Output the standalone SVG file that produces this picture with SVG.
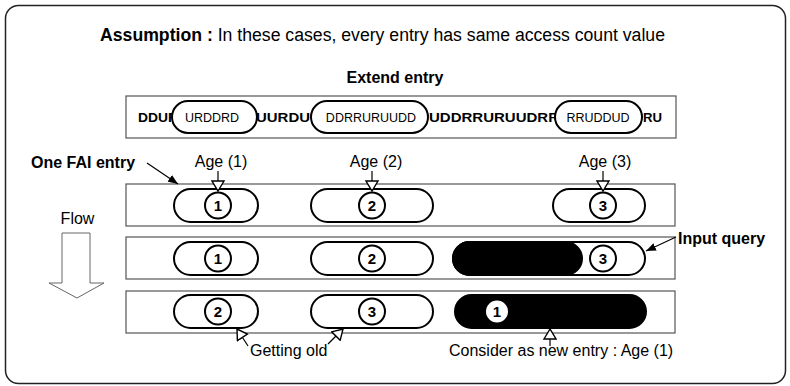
<svg xmlns="http://www.w3.org/2000/svg" width="790" height="386" viewBox="0 0 790 386">
<style>
text{font-family:"Liberation Sans",Arial,sans-serif;fill:#000}
.b{font-weight:bold}
.t16{font-size:16px}
.row{fill:#fff;stroke:#555;stroke-width:1.2}
.pill{fill:#fff;stroke:#000;stroke-width:2}
.blk{fill:#000;stroke:#000;stroke-width:2}
.cir{fill:#fff;stroke:#000;stroke-width:2}
.num{font-size:15px;font-weight:bold;text-anchor:middle}
.seq{font-size:13px;font-weight:bold}
.pt{font-size:12.5px;text-anchor:middle}
.ln{stroke:#000;stroke-width:1.2;fill:none}
.mid{text-anchor:middle}
</style>
<defs>
<marker id="open" viewBox="0 0 12 14" markerWidth="12" markerHeight="14" markerUnits="userSpaceOnUse" refX="11" refY="7" orient="auto">
<path d="M1,1 L11,7 L1,13 Z" fill="#fff" stroke="#000" stroke-width="1.4"/>
</marker>
<marker id="fill" viewBox="0 0 10 8" markerWidth="10" markerHeight="8" markerUnits="userSpaceOnUse" refX="10" refY="4" orient="auto">
<path d="M0,0 L10,4 L0,8 Z" fill="#000"/>
</marker>
</defs>
<rect x="5.5" y="5.5" width="780" height="378" rx="13" fill="#fff" stroke="#222" stroke-width="1.5"/>
<g id="title">
<text x="100" y="41" style="font-size:18px" textLength="565" lengthAdjust="spacingAndGlyphs"><tspan class="b">Assumption :</tspan> In these cases, every entry has same access count value</text>
</g>
<g id="extend-entry">
<text x="395" y="83" class="b t16 mid">Extend entry</text>
<rect x="126" y="96" width="550" height="42" class="row"/>
<text x="138" y="122" class="seq" textLength="40" lengthAdjust="spacingAndGlyphs">DDUR</text>
<text x="256" y="122" class="seq" textLength="54" lengthAdjust="spacingAndGlyphs">UURDU</text>
<text x="429" y="122" class="seq" textLength="130" lengthAdjust="spacingAndGlyphs">UDDRRURUUDRR</text>
<text x="643" y="122" class="seq" textLength="19" lengthAdjust="spacingAndGlyphs">RU</text>
<rect x="172" y="101" width="85" height="32" rx="16" class="pill"/>
<rect x="311" y="101" width="117" height="32" rx="16" class="pill"/>
<rect x="555" y="101" width="87" height="32" rx="16" class="pill"/>
<text x="212" y="122" class="pt">URDDRD</text>
<text x="371" y="122" class="pt">DDRRURUUDD</text>
<text x="598" y="122" class="pt">RRUDDUD</text>
</g>
<g id="label-one-fai">
<text x="31" y="168" class="b t16">One FAI entry</text>
</g>
<g id="flow">
<text x="77.5" y="224" class="t16 mid">Flow</text>
<polygon points="62,233 90,233 90,283 104,283 77,298 49,283 62,283" fill="#fff" stroke="#666" stroke-width="1"/>
</g>
<g id="ages">
<text x="221" y="167" class="t16 mid">Age (1)</text>
<text x="376" y="167" class="t16 mid">Age (2)</text>
<text x="605" y="167" class="t16 mid">Age (3)</text>
</g>
<g id="row1">
<rect x="126" y="184" width="549" height="42" class="row"/>
<rect x="174" y="189" width="84" height="33" rx="16.5" class="pill"/>
<rect x="311" y="189" width="122" height="33" rx="16.5" class="pill"/>
<rect x="553" y="189" width="92" height="33" rx="16.5" class="pill"/>
<circle cx="218" cy="205.5" r="13" class="cir"/><text x="218" y="211" class="num">1</text>
<circle cx="372" cy="205.5" r="13" class="cir"/><text x="372" y="211" class="num">2</text>
<circle cx="603" cy="205.5" r="13" class="cir"/><text x="603" y="211" class="num">3</text>
</g>
<g id="row2">
<rect x="126" y="237" width="549" height="42" class="row"/>
<rect x="174" y="242" width="84" height="33" rx="16.5" class="pill"/>
<rect x="311" y="242" width="122" height="33" rx="16.5" class="pill"/>
<rect x="453" y="242" width="192" height="33" rx="16.5" class="pill"/>
<rect x="453" y="242" width="129" height="33" rx="16.5" class="blk"/>
<circle cx="218" cy="258.5" r="13" class="cir"/><text x="218" y="264" class="num">1</text>
<circle cx="372" cy="258.5" r="13" class="cir"/><text x="372" y="264" class="num">2</text>
<circle cx="603" cy="258.5" r="13" class="cir"/><text x="603" y="264" class="num">3</text>
</g>
<g id="label-input-query">
<text x="678" y="244" class="b t16">Input query</text>
</g>
<g id="row3">
<rect x="126" y="291" width="549" height="42" class="row"/>
<rect x="174" y="295" width="84" height="33" rx="16.5" class="pill"/>
<rect x="311" y="295" width="122" height="33" rx="16.5" class="pill"/>
<rect x="455" y="295" width="191" height="33" rx="16.5" class="blk"/>
<circle cx="218" cy="311.5" r="13" class="cir"/><text x="218" y="317" class="num">2</text>
<circle cx="372" cy="311.5" r="13" class="cir"/><text x="372" y="317" class="num">3</text>
<circle cx="497" cy="311.5" r="12" class="cir" stroke="#fff"/><text x="497" y="317" class="num">1</text>
</g>
<g id="label-getting-old">
<text x="250" y="356" class="t16">Getting old</text>
</g>
<g id="label-new-entry">
<text x="449" y="356" class="t16">Consider as new entry : Age (1)</text>
</g>
<g id="connectors">
<line x1="147" y1="163" x2="178" y2="184" class="ln" marker-end="url(#fill)"/>
<line x1="676" y1="237" x2="646" y2="251" class="ln" marker-end="url(#fill)"/>
<line x1="218" y1="171" x2="218" y2="191" class="ln" marker-end="url(#open)"/>
<line x1="372" y1="171" x2="372" y2="191" class="ln" marker-end="url(#open)"/>
<line x1="603" y1="171" x2="603" y2="191" class="ln" marker-end="url(#open)"/>
<line x1="248" y1="346" x2="237" y2="329" class="ln" marker-end="url(#open)"/>
<line x1="328" y1="344" x2="343" y2="329" class="ln" marker-end="url(#open)"/>
<line x1="550" y1="346" x2="550" y2="329" class="ln" marker-end="url(#open)"/>
</g>
</svg>
